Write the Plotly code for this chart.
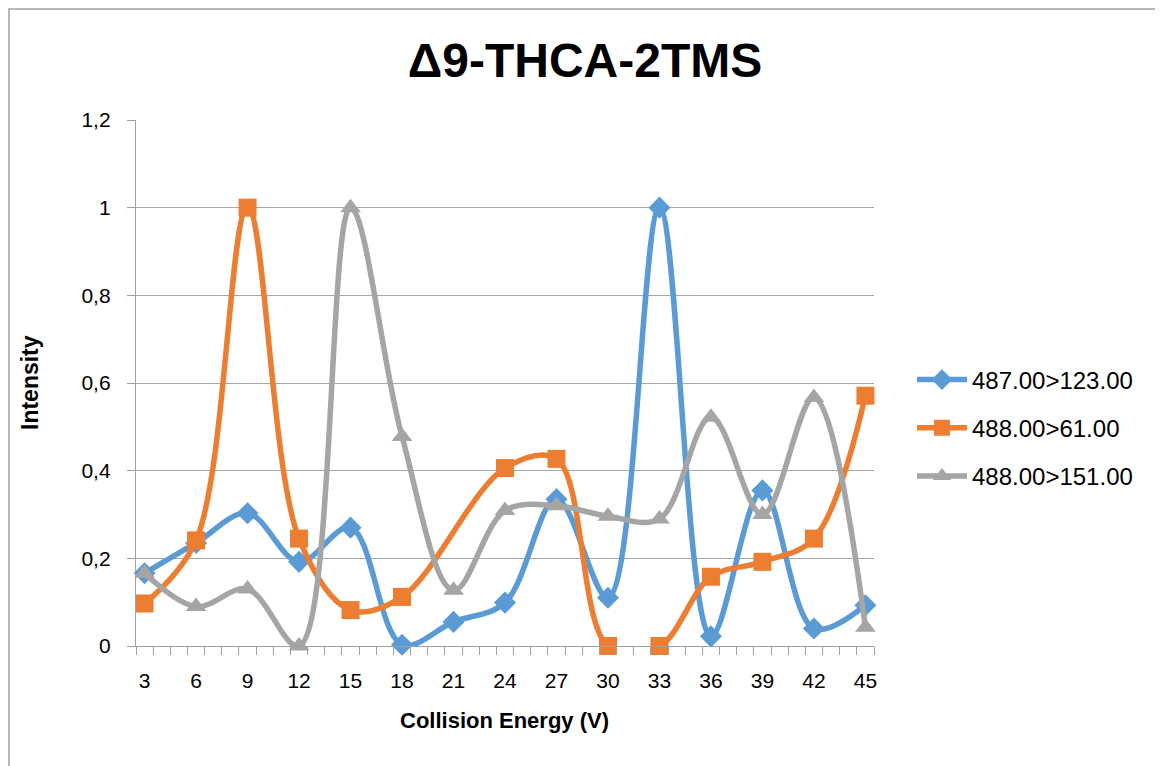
import plotly.graph_objects as go

energies = [3, 6, 9, 12, 15, 18, 21, 24, 27, 30, 33, 36, 39, 42, 45]
s487_123 = [0.166, 0.235, 0.303, 0.192, 0.270, 0.003, 0.055, 0.099, 0.335, 0.110, 1.0, 0.022, 0.355, 0.040, 0.093]
s488_61 = [0.097, 0.241, 1.0, 0.245, 0.082, 0.112, None, 0.406, 0.427, 0.0, 0.0, 0.158, 0.192, 0.245, 0.571]
s488_151 = [0.166, 0.090, 0.130, 0.0, 1.0, 0.478, 0.127, 0.309, 0.320, 0.296, 0.290, 0.522, 0.300, 0.567, 0.043]

names = ["487.00>123.00", "488.00>61.00", "488.00>151.00"]
colors = ["#5B9BD5", "#ED7D31", "#A5A5A5"]
symbols = ["diamond", "square", "triangle-up"]
msizes = [17, 18, 18]
series = [s487_123, s488_61, s488_151]

title_text = "Δ9-THCA-2TMS"
x_title = "Collision Energy (V)"
y_title = "Intensity"

FONT = "Liberation Sans, Arial, sans-serif"

fig = go.Figure()
for i, (nm, ys) in enumerate(zip(names, series)):
    fig.add_trace(go.Scatter(
        x=energies, y=ys, name=nm, mode="lines+markers",
        connectgaps=True, legendgroup=nm,
        line=dict(color=colors[i], width=5.5, shape="spline", smoothing=1.0),
        marker=dict(symbol=symbols[i], size=msizes[i], color=colors[i]),
        cliponaxis=False,
    ))

# page body has an 8px margin, so positions are offset by OFF
OFF = 8
W, H = 1163, 766
L, T = 136 - OFF, 120 - OFF
pw, ph = 738, 526
R = W - L - pw
B = H - T - ph

def px_x(x):
    return (x - OFF - L) / pw

def px_y(y):
    return (T + ph - (y - OFF)) / ph

fig.update_layout(
    width=W, height=H,
    margin=dict(l=L, r=R, t=T, b=B),
    paper_bgcolor="white", plot_bgcolor="white",
    separators=", ",
    font=dict(family=FONT, size=21, color="black"),
    title=dict(text="<b>" + title_text + "</b>", x=(585 - OFF) / W, xanchor="center",
               y=1 - (60 - OFF) / H, yanchor="middle",
               font=dict(family=FONT, size=48, color="black")),
    legend=dict(x=px_x(912), xanchor="left", y=px_y(428), yanchor="middle",
                font=dict(family=FONT, size=24, color="black"),
                itemwidth=50,
                tracegroupgap=14, bgcolor="rgba(0,0,0,0)"),
    xaxis=dict(
        range=[2.5, 45.5], tickmode="array", tickvals=energies,
        ticktext=[str(e) for e in energies], ticks="", showgrid=False,
        showline=True, linecolor="#A0A0A0", linewidth=1.3, zeroline=False,
        ticklabelstandoff=16,
        minor=dict(ticks="outside", tick0=2.5, dtick=1, ticklen=8,
                   tickcolor="#A0A0A0", tickwidth=1.3, showgrid=False),
        tickfont=dict(family=FONT, size=21, color="black"),
    ),
    yaxis=dict(
        range=[0, 1.2], dtick=0.2, tick0=0, ticks="outside", ticklen=8,
        tickcolor="#A0A0A0", tickwidth=1.3, showgrid=True,
        gridcolor="#A6A6A6", gridwidth=1.3, showline=True,
        linecolor="#A0A0A0", linewidth=1.3, zeroline=False,
        ticklabelstandoff=12,
        tickfont=dict(family=FONT, size=21, color="black"),
    ),
    annotations=[
        dict(text="<b>" + x_title + "</b>", xref="paper", yref="paper",
             x=px_x(504), y=px_y(720), xanchor="center", yanchor="middle",
             showarrow=False, font=dict(family=FONT, size=22, color="black")),
        dict(text="<b>" + y_title + "</b>", xref="paper", yref="paper",
             x=px_x(30), y=px_y(383), xanchor="center", yanchor="middle",
             textangle=-90, showarrow=False,
             font=dict(family=FONT, size=23, color="black")),
    ],
    shapes=[
        dict(type="rect", xref="paper", yref="paper", layer="below",
             x0=px_x(9), x1=px_x(1185), y0=px_y(790), y1=px_y(9),
             line=dict(color="#A0A0A0", width=1.5), fillcolor="rgba(0,0,0,0)"),
    ],
)

fig.write_html("out.html")
